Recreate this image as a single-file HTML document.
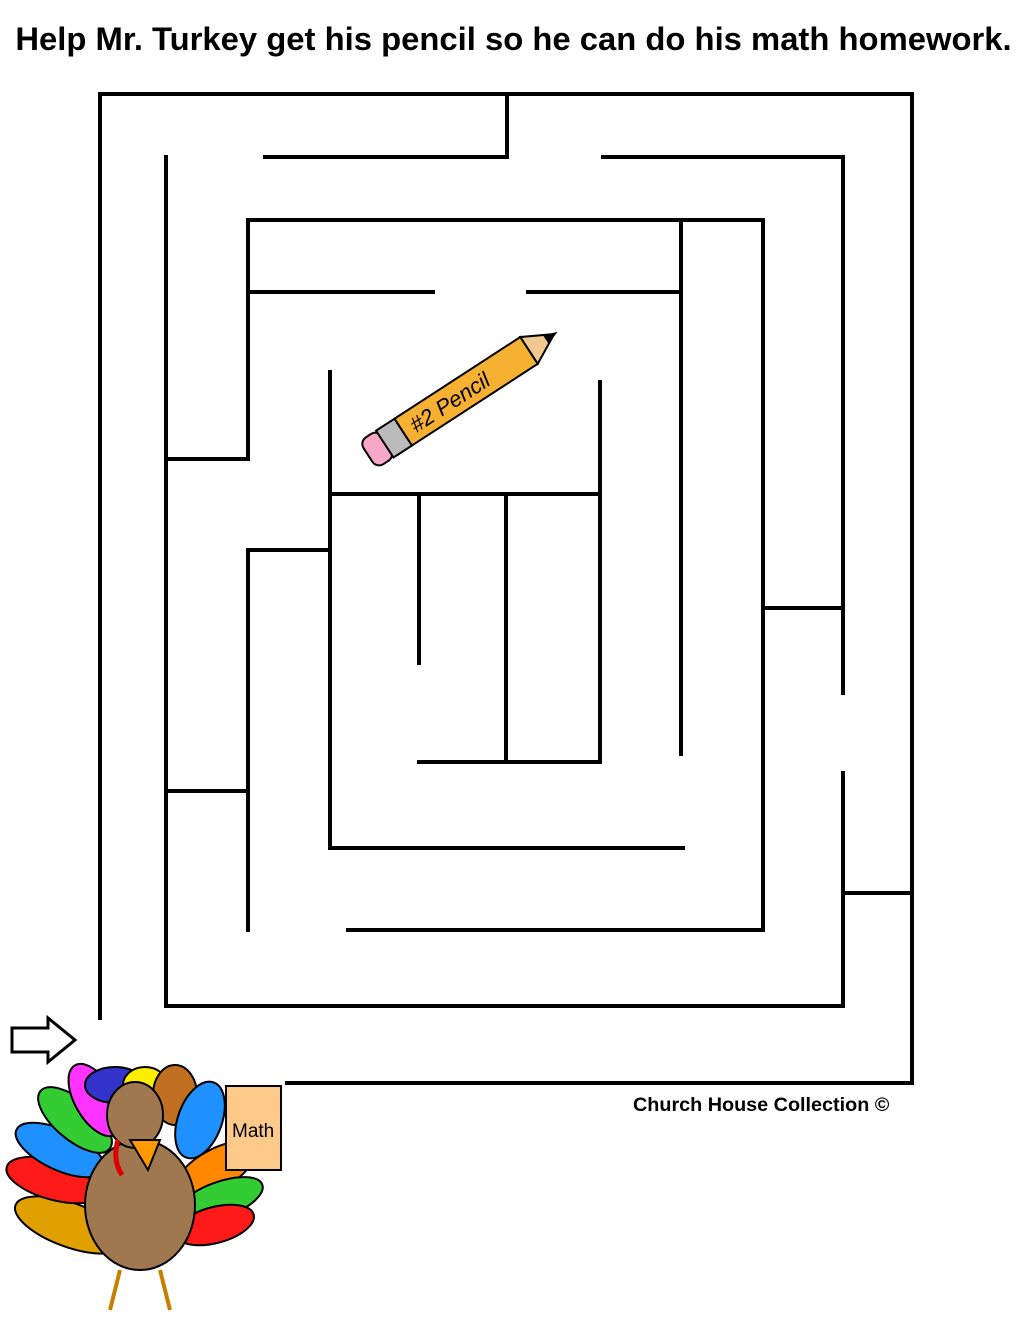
<!DOCTYPE html>
<html><head><meta charset="utf-8"><style>
body{margin:0;background:#fff;width:1020px;height:1320px;overflow:hidden;position:relative;font-family:"Liberation Sans",sans-serif}
.t{position:absolute;left:0;width:1027px;top:20px;text-align:center;font-weight:bold;font-size:32.8px;color:#000;white-space:nowrap}
.c{position:absolute;left:633px;top:1094px;font-weight:bold;font-size:19.8px}
svg{position:absolute;left:0;top:0}
</style></head><body>
<div class="t">Help Mr. Turkey get his pencil so he can do his math homework.</div>
<div class="c">Church House Collection ©</div>
<svg width="1020" height="1320" viewBox="0 0 1020 1320">
<g stroke="#000" stroke-width="4" fill="none" stroke-linecap="square">
<path d="M100 1018V94H912V1083H287"/>
<path d="M507 94V157H265"/>
<path d="M603 157H843V693"/>
<path d="M843 773V1006H166V157"/>
<path d="M166 459H248V220H763V930H348"/>
<path d="M248 292H433"/><path d="M528 292H681"/><path d="M681 224V754"/>
<path d="M763 608H843"/><path d="M843 893H912"/>
<path d="M330 372V848H683"/>
<path d="M330 494H600"/><path d="M600 382V762H419"/>
<path d="M419 494V663"/><path d="M506 494V762"/>
<path d="M248 930V550H330"/><path d="M166 791H248"/>
</g>
<path d="M12 1028H48V1018L75 1040L48 1062V1052H12Z" fill="#fff" stroke="#000" stroke-width="3"/>
<g transform="translate(368,455) rotate(-33)">
<rect x="0" y="-16" width="22" height="32" rx="8" fill="#f7a8c8" stroke="#000" stroke-width="2"/>
<rect x="20" y="-16" width="22" height="32" fill="#bbb" stroke="#000" stroke-width="2"/>
<rect x="42" y="-16" width="150" height="32" fill="#f6b132" stroke="#000" stroke-width="2"/>
<path d="M192 -16L222 0L192 16Z" fill="#f0c890" stroke="#000" stroke-width="2"/>
<path d="M212 -5L226 0L212 5Z" fill="#000"/>
<text x="52" y="8" font-size="22" font-family="Liberation Sans,sans-serif" font-style="italic">#2 Pencil</text>
</g>
<g stroke="#000" stroke-width="2">
<ellipse cx="70" cy="1225" rx="58" ry="22" fill="#e0a000" transform="rotate(20 70 1225)"/>
<ellipse cx="55" cy="1180" rx="50" ry="20" fill="#ff1a1a" transform="rotate(15 55 1180)"/>
<ellipse cx="60" cy="1150" rx="48" ry="20" fill="#1e90ff" transform="rotate(25 60 1150)"/>
<ellipse cx="75" cy="1120" rx="45" ry="20" fill="#33cc33" transform="rotate(40 75 1120)"/>
<ellipse cx="95" cy="1100" rx="40" ry="20" fill="#ff33ff" transform="rotate(60 95 1100)"/>
<ellipse cx="115" cy="1085" rx="30" ry="18" fill="#3333cc"/>
<ellipse cx="145" cy="1085" rx="22" ry="18" fill="#ffee00"/>
<ellipse cx="175" cy="1095" rx="22" ry="30" fill="#c07020"/>
<ellipse cx="200" cy="1120" rx="22" ry="40" fill="#1e90ff" transform="rotate(20 200 1120)"/>
<ellipse cx="215" cy="1170" rx="45" ry="20" fill="#ff8800" transform="rotate(-30 215 1170)"/>
<ellipse cx="220" cy="1200" rx="45" ry="18" fill="#33cc33" transform="rotate(-20 220 1200)"/>
<ellipse cx="215" cy="1225" rx="40" ry="18" fill="#ff1a1a" transform="rotate(-15 215 1225)"/>
<ellipse cx="140" cy="1205" rx="55" ry="65" fill="#a07850"/>
<ellipse cx="135" cy="1115" rx="28" ry="33" fill="#a07850"/>
<path d="M130 1140L160 1140L148 1170Z" fill="#ff9900"/>
<path d="M118 1140Q112 1160 122 1175" stroke="#d00" stroke-width="5" fill="none"/>
<path d="M120 1270L110 1310M160 1270L170 1310" stroke="#c68000" stroke-width="4"/>
<rect x="226" y="1086" width="55" height="84" fill="#fdca8a"/>
</g>
<text x="232" y="1137" font-size="19" font-family="Liberation Sans,sans-serif">Math</text>
</svg>
</body></html>
